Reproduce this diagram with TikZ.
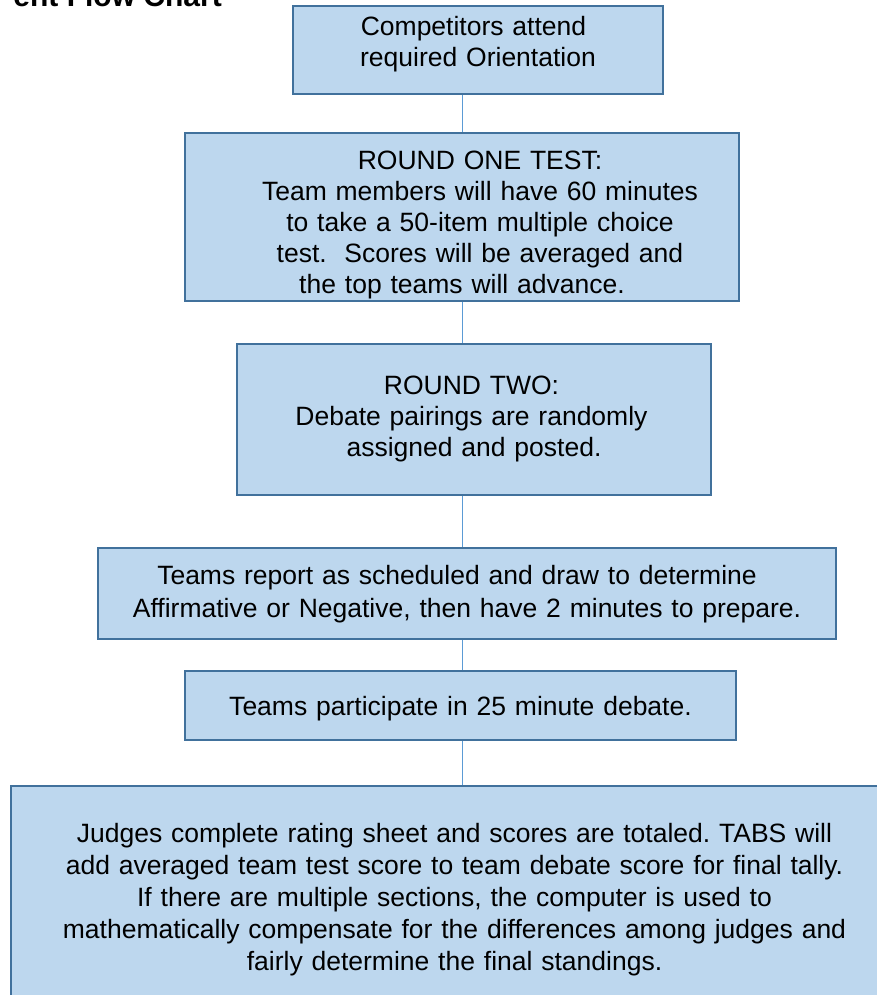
\documentclass[tikz,border=0pt]{standalone}
\usepackage{fontspec}
\setmainfont{Liberation Sans}
\usetikzlibrary{calc}
\definecolor{boxfill}{HTML}{BDD7EE}
\definecolor{boxline}{HTML}{41719C}
\definecolor{linkline}{HTML}{5B9BD5}
\frenchspacing
% extra room left / right of the centred lines
\newcommand{\nudge}[2]{\leftskip=#1 plus 1fil\rightskip=#2 plus 1fil\parfillskip=0pt\relax}
\tikzset{
  stage/.style={draw=boxline, line width=2pt, fill=boxfill, align=center,
    inner sep=0pt, text height=20pt, font=\fontsize{26.5}{31}\selectfont},
  link/.style={draw=linkline, line width=1pt}
}

\begin{document}
\begin{tikzpicture}[x=1pt,y=-1pt]
\useasboundingbox (0,0) rectangle (877,995);

% title, cut off by the page
\node[anchor=base east, inner sep=0pt, font=\fontsize{30}{34}\selectfont\bfseries] (title) at (222,7) {ent Flow Chart};

% stages
\node[stage, text width=370pt, minimum height=88pt, text depth=48pt] (orient) at (478,50)
  {\nudge{0pt}{9pt}Competitors attend\par required Orientation};
\node[stage, text width=554pt, minimum height=168pt, text depth=115pt] (roundone) at (462,217)
  {\nudge{36pt}{0pt}ROUND ONE TEST:\par Team members will have 60 minutes\par to take a 50-item multiple choice\par test.\ \ Scores will be averaged and\par the top teams will advance.};
\node[stage, text width=474pt, minimum height=151pt, text depth=70pt] (roundtwo) at (474,419.5)
  {\nudge{0pt}{5pt}ROUND TWO:\par Debate pairings are randomly\par assigned and posted.};
\node[stage, text width=738pt, minimum height=91pt, text depth=39pt,
  font=\fontsize{26.5}{33}\selectfont] (report) at (467,593.5)
  {\nudge{0pt}{20pt}Teams report as scheduled and draw to determine\par Affirmative or Negative, then have 2 minutes to prepare.};
\node[stage, text width=551pt, minimum height=69pt, text depth=0.6pt] (debate) at (460.5,705.5)
  {\nudge{3pt}{0pt}Teams participate in 25 minute debate.};
\node[stage, text width=887pt, minimum height=222pt, text depth=129pt,
  font=\fontsize{26.5}{32}\selectfont] (final) at (454.5,897)
  {\nudge{0pt}{0pt}Judges complete rating sheet and scores are totaled. TABS will\par add averaged team test score to team debate score for final tally.\par If there are multiple sections, the computer is used to\par mathematically compensate for the differences among judges and\par fairly determine the final standings.};

% connectors
\coordinate (spine) at (462,0);
\draw[link] (orient.south -| spine) -- (roundone.north -| spine);
\draw[link] (roundone.south -| spine) -- (roundtwo.north -| spine);
\draw[link] (roundtwo.south -| spine) -- (report.north -| spine);
\draw[link] (report.south -| spine) -- (debate.north -| spine);
\draw[link] (debate.south -| spine) -- (final.north -| spine);

\end{tikzpicture}
\end{document}
